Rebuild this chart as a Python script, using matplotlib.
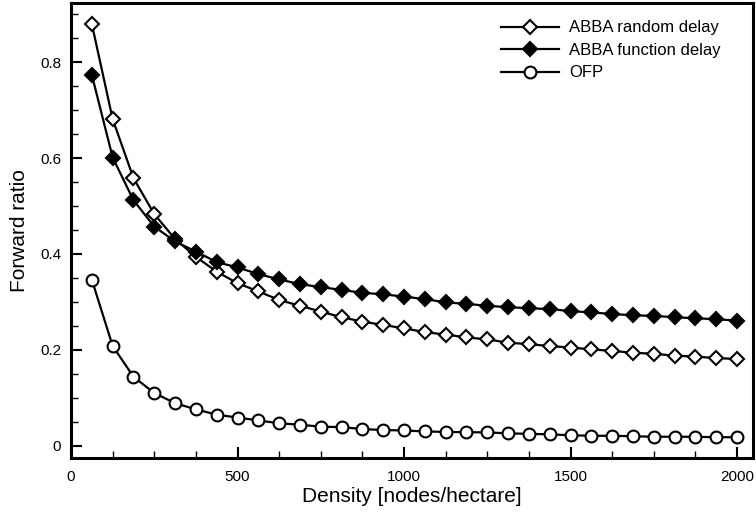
import matplotlib
matplotlib.use("Agg")
import matplotlib.pyplot as plt
from matplotlib.ticker import MultipleLocator, FuncFormatter

plt.rcParams['font.family'] = ['Liberation Sans', 'DejaVu Sans']

density = [62.5 * (i + 1) for i in range(32)]

abba_random = [0.879, 0.681, 0.558, 0.483, 0.431, 0.394, 0.363, 0.339, 0.322, 0.304,
               0.292, 0.280, 0.268, 0.259, 0.252, 0.245, 0.237, 0.232, 0.226, 0.222,
               0.215, 0.212, 0.208, 0.205, 0.201, 0.198, 0.194, 0.192, 0.188, 0.186,
               0.183, 0.181]
abba_function = [0.773, 0.601, 0.512, 0.457, 0.426, 0.405, 0.383, 0.372, 0.358, 0.347,
                 0.337, 0.331, 0.325, 0.319, 0.316, 0.311, 0.306, 0.299, 0.296, 0.292,
                 0.289, 0.287, 0.285, 0.281, 0.278, 0.275, 0.272, 0.271, 0.268, 0.266,
                 0.264, 0.261]
ofp = [0.346, 0.208, 0.144, 0.110, 0.089, 0.076, 0.065, 0.059, 0.053, 0.047,
       0.044, 0.040, 0.039, 0.035, 0.033, 0.032, 0.030, 0.029, 0.0285, 0.028,
       0.026, 0.025, 0.024, 0.022, 0.021, 0.021, 0.020, 0.019, 0.019, 0.0188,
       0.018, 0.018]

fig = plt.figure(figsize=(7.56, 5.15), dpi=100)
ax = fig.add_axes([0.094, 0.111, 0.902, 0.883])

common = dict(color='black', lw=1.6, markeredgewidth=1.5, markeredgecolor='black')
ax.plot(density, abba_random, marker='D', markersize=6.8, markerfacecolor='white',
        label='ABBA random delay', **common)
ax.plot(density, abba_function, marker='D', markersize=6.8, markerfacecolor='black',
        label='ABBA function delay', **common)
ax.plot(density, ofp, marker='o', markersize=8.5, markerfacecolor='white',
        label='OFP', **common)

ax.set_xlim(0, 2048)
ax.set_ylim(-0.025, 0.923)
ax.xaxis.set_major_locator(MultipleLocator(500))
ax.xaxis.set_minor_locator(MultipleLocator(125))
ax.yaxis.set_major_locator(MultipleLocator(0.2))
ax.yaxis.set_minor_locator(MultipleLocator(0.05))
ax.yaxis.set_major_formatter(FuncFormatter(lambda v, p: '0' if abs(v) < 1e-9 else f'{v:.1f}'))

ax.tick_params(which='major', direction='in', length=8, width=1.5, labelsize=11)
ax.tick_params(axis='x', which='major', pad=9)
ax.tick_params(axis='y', which='major', pad=7)
ax.tick_params(which='minor', direction='in', length=5, width=1.0)
ax.tick_params(top=False, right=False, which='both')
for s in ax.spines.values():
    s.set_linewidth(2.2)

ax.set_xlabel('Density [nodes/hectare]', fontsize=15, labelpad=2)
ax.set_ylabel('Forward ratio', fontsize=15, labelpad=8)

ax.legend(loc='upper right', frameon=False, fontsize=12, handlelength=3.5,
          bbox_to_anchor=(0.975, 0.995), labelspacing=0.45, handletextpad=0.6)

fig.savefig('out.png', dpi=100)
